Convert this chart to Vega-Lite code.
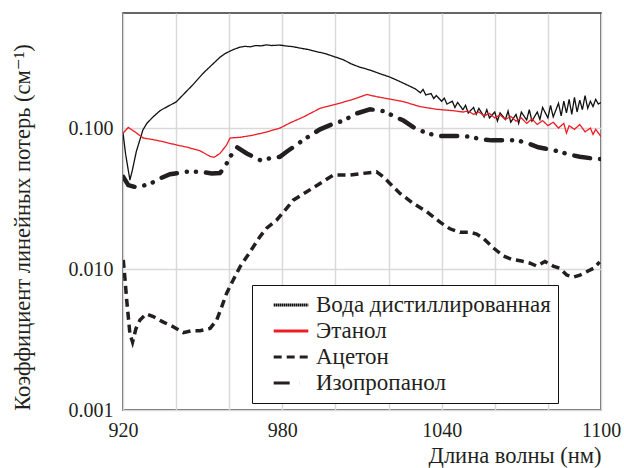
{
  "$schema": "https://vega.github.io/schema/vega-lite/v6.json",
  "width": 478,
  "height": 397,
  "autosize": {"type": "none"},
  "padding": {"left": 123, "top": 13, "right": 23, "bottom": 58},
  "background": "white",
  "config": {
    "view": {"stroke": "#333333", "strokeWidth": 1.5},
    "font": "Liberation Serif, Times New Roman, Tinos, DejaVu Serif, Noto Serif, serif"
  },
  "data": {"values": [
    {"s": "Вода дистиллированная", "x": 920, "y": 0.092},
    {"s": "Вода дистиллированная", "x": 921, "y": 0.065},
    {"s": "Вода дистиллированная", "x": 922.6, "y": 0.0428},
    {"s": "Вода дистиллированная", "x": 923.5, "y": 0.05},
    {"s": "Вода дистиллированная", "x": 925, "y": 0.068},
    {"s": "Вода дистиллированная", "x": 927.5, "y": 0.097},
    {"s": "Вода дистиллированная", "x": 929, "y": 0.108},
    {"s": "Вода дистиллированная", "x": 931.3, "y": 0.12},
    {"s": "Вода дистиллированная", "x": 934, "y": 0.133},
    {"s": "Вода дистиллированная", "x": 937, "y": 0.143},
    {"s": "Вода дистиллированная", "x": 940, "y": 0.153},
    {"s": "Вода дистиллированная", "x": 943, "y": 0.175},
    {"s": "Вода дистиллированная", "x": 946, "y": 0.2},
    {"s": "Вода дистиллированная", "x": 950.2, "y": 0.245},
    {"s": "Вода дистиллированная", "x": 953, "y": 0.275},
    {"s": "Вода дистиллированная", "x": 956.6, "y": 0.319},
    {"s": "Вода дистиллированная", "x": 958.5, "y": 0.338},
    {"s": "Вода дистиллированная", "x": 960.4, "y": 0.352},
    {"s": "Вода дистиллированная", "x": 962, "y": 0.363},
    {"s": "Вода дистиллированная", "x": 964.1, "y": 0.375},
    {"s": "Вода дистиллированная", "x": 966, "y": 0.38},
    {"s": "Вода дистиллированная", "x": 968, "y": 0.377},
    {"s": "Вода дистиллированная", "x": 970, "y": 0.385},
    {"s": "Вода дистиллированная", "x": 972, "y": 0.383},
    {"s": "Вода дистиллированная", "x": 974, "y": 0.389},
    {"s": "Вода дистиллированная", "x": 976, "y": 0.385},
    {"s": "Вода дистиллированная", "x": 979, "y": 0.388},
    {"s": "Вода дистиллированная", "x": 982, "y": 0.381},
    {"s": "Вода дистиллированная", "x": 984, "y": 0.378},
    {"s": "Вода дистиллированная", "x": 986.7, "y": 0.369},
    {"s": "Вода дистиллированная", "x": 990, "y": 0.36},
    {"s": "Вода дистиллированная", "x": 993, "y": 0.348},
    {"s": "Вода дистиллированная", "x": 996, "y": 0.338},
    {"s": "Вода дистиллированная", "x": 1000, "y": 0.319},
    {"s": "Вода дистиллированная", "x": 1003, "y": 0.305},
    {"s": "Вода дистиллированная", "x": 1006, "y": 0.285},
    {"s": "Вода дистиллированная", "x": 1009, "y": 0.271},
    {"s": "Вода дистиллированная", "x": 1013, "y": 0.258},
    {"s": "Вода дистиллированная", "x": 1017, "y": 0.242},
    {"s": "Вода дистиллированная", "x": 1020.5, "y": 0.23},
    {"s": "Вода дистиллированная", "x": 1024, "y": 0.215},
    {"s": "Вода дистиллированная", "x": 1028, "y": 0.198},
    {"s": "Вода дистиллированная", "x": 1030, "y": 0.19},
    {"s": "Вода дистиллированная", "x": 1032, "y": 0.178},
    {"s": "Вода дистиллированная", "x": 1033, "y": 0.188},
    {"s": "Вода дистиллированная", "x": 1034, "y": 0.172},
    {"s": "Вода дистиллированная", "x": 1036, "y": 0.176},
    {"s": "Вода дистиллированная", "x": 1037, "y": 0.162},
    {"s": "Вода дистиллированная", "x": 1038, "y": 0.17},
    {"s": "Вода дистиллированная", "x": 1040, "y": 0.155},
    {"s": "Вода дистиллированная", "x": 1041, "y": 0.163},
    {"s": "Вода дистиллированная", "x": 1042, "y": 0.148},
    {"s": "Вода дистиллированная", "x": 1044, "y": 0.155},
    {"s": "Вода дистиллированная", "x": 1045, "y": 0.14},
    {"s": "Вода дистиллированная", "x": 1046, "y": 0.152},
    {"s": "Вода дистиллированная", "x": 1048, "y": 0.135},
    {"s": "Вода дистиллированная", "x": 1049, "y": 0.145},
    {"s": "Вода дистиллированная", "x": 1050, "y": 0.128},
    {"s": "Вода дистиллированная", "x": 1052, "y": 0.14},
    {"s": "Вода дистиллированная", "x": 1053, "y": 0.125},
    {"s": "Вода дистиллированная", "x": 1054, "y": 0.138},
    {"s": "Вода дистиллированная", "x": 1056, "y": 0.12},
    {"s": "Вода дистиллированная", "x": 1057, "y": 0.135},
    {"s": "Вода дистиллированная", "x": 1058, "y": 0.118},
    {"s": "Вода дистиллированная", "x": 1060, "y": 0.13},
    {"s": "Вода дистиллированная", "x": 1061, "y": 0.112},
    {"s": "Вода дистиллированная", "x": 1062, "y": 0.128},
    {"s": "Вода дистиллированная", "x": 1064, "y": 0.115},
    {"s": "Вода дистиллированная", "x": 1065, "y": 0.132},
    {"s": "Вода дистиллированная", "x": 1066, "y": 0.11},
    {"s": "Вода дистиллированная", "x": 1068, "y": 0.125},
    {"s": "Вода дистиллированная", "x": 1069, "y": 0.108},
    {"s": "Вода дистиллированная", "x": 1070, "y": 0.13},
    {"s": "Вода дистиллированная", "x": 1072, "y": 0.114},
    {"s": "Вода дистиллированная", "x": 1073, "y": 0.135},
    {"s": "Вода дистиллированная", "x": 1074, "y": 0.112},
    {"s": "Вода дистиллированная", "x": 1076, "y": 0.13},
    {"s": "Вода дистиллированная", "x": 1077, "y": 0.115},
    {"s": "Вода дистиллированная", "x": 1078, "y": 0.14},
    {"s": "Вода дистиллированная", "x": 1080, "y": 0.118},
    {"s": "Вода дистиллированная", "x": 1081, "y": 0.145},
    {"s": "Вода дистиллированная", "x": 1082, "y": 0.12},
    {"s": "Вода дистиллированная", "x": 1084, "y": 0.15},
    {"s": "Вода дистиллированная", "x": 1085, "y": 0.122},
    {"s": "Вода дистиллированная", "x": 1086, "y": 0.155},
    {"s": "Вода дистиллированная", "x": 1087, "y": 0.128},
    {"s": "Вода дистиллированная", "x": 1088, "y": 0.16},
    {"s": "Вода дистиллированная", "x": 1089, "y": 0.125},
    {"s": "Вода дистиллированная", "x": 1090, "y": 0.165},
    {"s": "Вода дистиллированная", "x": 1091, "y": 0.13},
    {"s": "Вода дистиллированная", "x": 1092, "y": 0.158},
    {"s": "Вода дистиллированная", "x": 1093, "y": 0.135},
    {"s": "Вода дистиллированная", "x": 1094, "y": 0.17},
    {"s": "Вода дистиллированная", "x": 1095, "y": 0.138},
    {"s": "Вода дистиллированная", "x": 1096, "y": 0.155},
    {"s": "Вода дистиллированная", "x": 1097, "y": 0.142},
    {"s": "Вода дистиллированная", "x": 1098, "y": 0.16},
    {"s": "Вода дистиллированная", "x": 1099, "y": 0.148},
    {"s": "Вода дистиллированная", "x": 1100, "y": 0.152},

    {"s": "Этанол", "x": 920, "y": 0.092},
    {"s": "Этанол", "x": 922, "y": 0.101},
    {"s": "Этанол", "x": 924.5, "y": 0.094},
    {"s": "Этанол", "x": 927.6, "y": 0.085},
    {"s": "Этанол", "x": 931, "y": 0.083},
    {"s": "Этанол", "x": 935.2, "y": 0.08},
    {"s": "Этанол", "x": 940.2, "y": 0.0758},
    {"s": "Этанол", "x": 944, "y": 0.0733},
    {"s": "Этанол", "x": 949, "y": 0.069},
    {"s": "Этанол", "x": 952.8, "y": 0.063},
    {"s": "Этанол", "x": 954.3, "y": 0.062},
    {"s": "Этанол", "x": 956.5, "y": 0.066},
    {"s": "Этанол", "x": 959, "y": 0.0758},
    {"s": "Этанол", "x": 960.3, "y": 0.085},
    {"s": "Этанол", "x": 964.1, "y": 0.086},
    {"s": "Этанол", "x": 969, "y": 0.089},
    {"s": "Этанол", "x": 974.2, "y": 0.094},
    {"s": "Этанол", "x": 979.1, "y": 0.1},
    {"s": "Этанол", "x": 983, "y": 0.109},
    {"s": "Этанол", "x": 988, "y": 0.12},
    {"s": "Этанол", "x": 994.2, "y": 0.138},
    {"s": "Этанол", "x": 1000.5, "y": 0.148},
    {"s": "Этанол", "x": 1006.7, "y": 0.16},
    {"s": "Этанол", "x": 1011.8, "y": 0.173},
    {"s": "Этанол", "x": 1015.5, "y": 0.167},
    {"s": "Этанол", "x": 1019.3, "y": 0.162},
    {"s": "Этанол", "x": 1025.6, "y": 0.154},
    {"s": "Этанол", "x": 1031.8, "y": 0.142},
    {"s": "Этанол", "x": 1038, "y": 0.136},
    {"s": "Этанол", "x": 1044, "y": 0.133},
    {"s": "Этанол", "x": 1048, "y": 0.13},
    {"s": "Этанол", "x": 1050, "y": 0.132},
    {"s": "Этанол", "x": 1052, "y": 0.125},
    {"s": "Этанол", "x": 1054, "y": 0.13},
    {"s": "Этанол", "x": 1056, "y": 0.122},
    {"s": "Этанол", "x": 1058, "y": 0.127},
    {"s": "Этанол", "x": 1060, "y": 0.118},
    {"s": "Этанол", "x": 1062, "y": 0.124},
    {"s": "Этанол", "x": 1064, "y": 0.115},
    {"s": "Этанол", "x": 1066, "y": 0.121},
    {"s": "Этанол", "x": 1068, "y": 0.112},
    {"s": "Этанол", "x": 1070, "y": 0.118},
    {"s": "Этанол", "x": 1072, "y": 0.108},
    {"s": "Этанол", "x": 1074, "y": 0.116},
    {"s": "Этанол", "x": 1076, "y": 0.106},
    {"s": "Этанол", "x": 1078, "y": 0.113},
    {"s": "Этанол", "x": 1080, "y": 0.104},
    {"s": "Этанол", "x": 1082, "y": 0.11},
    {"s": "Этанол", "x": 1084, "y": 0.1},
    {"s": "Этанол", "x": 1086, "y": 0.108},
    {"s": "Этанол", "x": 1087, "y": 0.092},
    {"s": "Этанол", "x": 1088, "y": 0.104},
    {"s": "Этанол", "x": 1090, "y": 0.098},
    {"s": "Этанол", "x": 1092, "y": 0.106},
    {"s": "Этанол", "x": 1094, "y": 0.094},
    {"s": "Этанол", "x": 1096, "y": 0.1},
    {"s": "Этанол", "x": 1097, "y": 0.09},
    {"s": "Этанол", "x": 1098, "y": 0.098},
    {"s": "Этанол", "x": 1100, "y": 0.087},

    {"s": "Ацетон", "x": 920.1, "y": 0.0116},
    {"s": "Ацетон", "x": 920.8, "y": 0.0083},
    {"s": "Ацетон", "x": 921.4, "y": 0.006},
    {"s": "Ацетон", "x": 922.6, "y": 0.00348},
    {"s": "Ацетон", "x": 923.6, "y": 0.00303},
    {"s": "Ацетон", "x": 924.9, "y": 0.00379},
    {"s": "Ацетон", "x": 926.4, "y": 0.00435},
    {"s": "Ацетон", "x": 928.7, "y": 0.0048},
    {"s": "Ацетон", "x": 931.4, "y": 0.0046},
    {"s": "Ацетон", "x": 935.2, "y": 0.0042},
    {"s": "Ацетон", "x": 938.9, "y": 0.0039},
    {"s": "Ацетон", "x": 942.7, "y": 0.00354},
    {"s": "Ацетон", "x": 945.9, "y": 0.00365},
    {"s": "Ацетон", "x": 949, "y": 0.00365},
    {"s": "Ацетон", "x": 952.8, "y": 0.00379},
    {"s": "Ацетон", "x": 955.3, "y": 0.00435},
    {"s": "Ацетон", "x": 957.2, "y": 0.00541},
    {"s": "Ацетон", "x": 959, "y": 0.00672},
    {"s": "Ацетон", "x": 961.5, "y": 0.00836},
    {"s": "Ацетон", "x": 964.1, "y": 0.0104},
    {"s": "Ацетон", "x": 966.6, "y": 0.0122},
    {"s": "Ацетон", "x": 969.1, "y": 0.0144},
    {"s": "Ацетон", "x": 971.6, "y": 0.017},
    {"s": "Ацетон", "x": 974.1, "y": 0.0195},
    {"s": "Ацетон", "x": 977.9, "y": 0.0223},
    {"s": "Ацетон", "x": 981.6, "y": 0.0269},
    {"s": "Ацетон", "x": 984.1, "y": 0.0308},
    {"s": "Ацетон", "x": 989.2, "y": 0.0353},
    {"s": "Ацетон", "x": 994.2, "y": 0.0405},
    {"s": "Ацетон", "x": 999.2, "y": 0.0464},
    {"s": "Ацетон", "x": 1005.5, "y": 0.0464},
    {"s": "Ацетон", "x": 1010.5, "y": 0.0477},
    {"s": "Ацетон", "x": 1015.5, "y": 0.049},
    {"s": "Ацетон", "x": 1018, "y": 0.0451},
    {"s": "Ацетон", "x": 1020.5, "y": 0.0405},
    {"s": "Ацетон", "x": 1024.3, "y": 0.0344},
    {"s": "Ацетон", "x": 1029.3, "y": 0.0292},
    {"s": "Ацетон", "x": 1034.4, "y": 0.0255},
    {"s": "Ацетон", "x": 1039.4, "y": 0.0215},
    {"s": "Ацетон", "x": 1043.1, "y": 0.0193},
    {"s": "Ацетон", "x": 1046.9, "y": 0.0182},
    {"s": "Ацетон", "x": 1050.7, "y": 0.0182},
    {"s": "Ацетон", "x": 1053.2, "y": 0.0177},
    {"s": "Ацетон", "x": 1055.7, "y": 0.0165},
    {"s": "Ацетон", "x": 1059.5, "y": 0.0141},
    {"s": "Ацетон", "x": 1063.2, "y": 0.0124},
    {"s": "Ацетон", "x": 1066.4, "y": 0.0117},
    {"s": "Ацетон", "x": 1070.1, "y": 0.0114},
    {"s": "Ацетон", "x": 1073.3, "y": 0.011},
    {"s": "Ацетон", "x": 1075.8, "y": 0.0105},
    {"s": "Ацетон", "x": 1078.9, "y": 0.0113},
    {"s": "Ацетон", "x": 1082, "y": 0.0105},
    {"s": "Ацетон", "x": 1084.6, "y": 0.0101},
    {"s": "Ацетон", "x": 1087.1, "y": 0.00906},
    {"s": "Ацетон", "x": 1089.6, "y": 0.00875},
    {"s": "Ацетон", "x": 1092.1, "y": 0.00906},
    {"s": "Ацетон", "x": 1094.6, "y": 0.00957},
    {"s": "Ацетон", "x": 1097.1, "y": 0.0101},
    {"s": "Ацетон", "x": 1099.5, "y": 0.0112},

    {"s": "Изопропанол", "x": 920.1, "y": 0.045},
    {"s": "Изопропанол", "x": 922, "y": 0.0394},
    {"s": "Изопропанол", "x": 925, "y": 0.038},
    {"s": "Изопропанол", "x": 930, "y": 0.04},
    {"s": "Изопропанол", "x": 934, "y": 0.044},
    {"s": "Изопропанол", "x": 937.7, "y": 0.047},
    {"s": "Изопропанол", "x": 944, "y": 0.049},
    {"s": "Изопропанол", "x": 949, "y": 0.049},
    {"s": "Изопропанол", "x": 953.4, "y": 0.0477},
    {"s": "Изопропанол", "x": 956.5, "y": 0.048},
    {"s": "Изопропанол", "x": 958.4, "y": 0.053},
    {"s": "Изопропанол", "x": 960.3, "y": 0.0626},
    {"s": "Изопропанол", "x": 963, "y": 0.073},
    {"s": "Изопропанол", "x": 966.6, "y": 0.066},
    {"s": "Изопропанол", "x": 971.6, "y": 0.0593},
    {"s": "Изопропанол", "x": 976.6, "y": 0.0616},
    {"s": "Изопропанол", "x": 979.1, "y": 0.0626},
    {"s": "Изопропанол", "x": 981.6, "y": 0.0679},
    {"s": "Изопропанол", "x": 987.9, "y": 0.0822},
    {"s": "Изопропанол", "x": 994.2, "y": 0.098},
    {"s": "Изопропанол", "x": 998.6, "y": 0.106},
    {"s": "Изопропанол", "x": 1003, "y": 0.113},
    {"s": "Изопропанол", "x": 1008, "y": 0.127},
    {"s": "Изопропанол", "x": 1013, "y": 0.136},
    {"s": "Изопропанол", "x": 1018, "y": 0.132},
    {"s": "Изопропанол", "x": 1021.8, "y": 0.122},
    {"s": "Изопропанол", "x": 1025.6, "y": 0.113},
    {"s": "Изопропанол", "x": 1030.6, "y": 0.098},
    {"s": "Изопропанол", "x": 1035.6, "y": 0.0907},
    {"s": "Изопропанол", "x": 1039.4, "y": 0.0878},
    {"s": "Изопропанол", "x": 1046.9, "y": 0.0878},
    {"s": "Изопропанол", "x": 1050.7, "y": 0.0868},
    {"s": "Изопропанол", "x": 1054.4, "y": 0.0836},
    {"s": "Изопропанол", "x": 1058.8, "y": 0.0818},
    {"s": "Изопропанол", "x": 1068.4, "y": 0.0818},
    {"s": "Изопропанол", "x": 1072.6, "y": 0.0779},
    {"s": "Изопропанол", "x": 1076.4, "y": 0.073},
    {"s": "Изопропанол", "x": 1082, "y": 0.0698},
    {"s": "Изопропанол", "x": 1085.2, "y": 0.0672},
    {"s": "Изопропанол", "x": 1089, "y": 0.0643},
    {"s": "Изопропанол", "x": 1092, "y": 0.0626},
    {"s": "Изопропанол", "x": 1098.4, "y": 0.0603},
    {"s": "Изопропанол", "x": 1100, "y": 0.0603}
  ]},
  "encoding": {
    "x": {
      "field": "x", "type": "quantitative",
      "scale": {"domain": [920, 1100], "nice": false, "zero": false},
      "axis": {
        "values": [920, 940, 960, 980, 1000, 1020, 1040, 1060, 1080, 1100],
        "format": "d",
        "labelExpr": "datum.value % 60 == 20 ? datum.label : ''",
        "labelFlush": false,
        "labelPadding": 10,
        "labelFont": "Liberation Serif, Times New Roman, Tinos, DejaVu Serif, Noto Serif, serif", "labelFontSize": 20, "labelColor": "#231f20",
        "gridColor": "#d9d9d9", "gridWidth": 1.5, "ticks": false, "domain": false,
        "title": "Длина волны (нм)",
        "titleFont": "Liberation Serif, Times New Roman, Tinos, DejaVu Serif, Noto Serif, serif", "titleFontSize": 22.5, "titleFontWeight": "normal", "titleColor": "#231f20",
        "titleAnchor": "end", "titleAlign": "right", "titleX": 478, "titleY": 52, "titleBaseline": "alphabetic"
      }
    },
    "y": {
      "field": "y", "type": "quantitative",
      "scale": {"type": "log", "domain": [0.001, 0.655], "nice": false},
      "axis": {
        "values": [0.001, 0.01, 0.1],
        "format": ".3f",
        "labelPadding": 10,
        "labelFont": "Liberation Serif, Times New Roman, Tinos, DejaVu Serif, Noto Serif, serif", "labelFontSize": 20, "labelColor": "#231f20",
        "gridColor": "#d9d9d9", "gridWidth": 1.5, "ticks": false, "domain": false,
        "title": "Коэффициент линейных потерь (см⁻¹)",
        "titleFont": "Liberation Serif, Times New Roman, Tinos, DejaVu Serif, Noto Serif, serif", "titleFontSize": 22.5, "titleFontWeight": "normal", "titleColor": "#231f20",
        "titleX": -101, "titleY": 214, "titleAlign": "center", "titleBaseline": "middle", "titleAngle": -90
      }
    },
    "color": {
      "field": "s", "type": "nominal",
      "scale": {"domain": ["Вода дистиллированная", "Этанол", "Ацетон", "Изопропанол"], "range": ["#111111", "#ee1c25", "#231f20", "#231f20"]},
      "legend": {"orient": "none", "legendX": 129, "legendY": 272, "title": null, "strokeColor": "#111111", "fillColor": "white", "padding": 7, "symbolType": "stroke", "symbolSize": 1200, "symbolStrokeWidth": 3, "symbolOffset": 13, "labelOffset": 6, "rowPadding": 0, "clipHeight": 26, "cornerRadius": 0, "labelFont": "Liberation Serif, Times New Roman, Tinos, DejaVu Serif, Noto Serif, serif", "labelFontSize": 23, "labelColor": "#231f20", "labelLimit": 400}
    },
    "strokeDash": {
      "field": "s", "type": "nominal",
      "scale": {"domain": ["Вода дистиллированная", "Этанол", "Ацетон", "Изопропанол"], "range": [[1.6, 0.4], [1, 0], [8, 5], [16, 10, 0.1, 9, 0.1, 10]]},
      "legend": {"orient": "none", "legendX": 129, "legendY": 272, "title": null, "strokeColor": "#111111", "fillColor": "white", "padding": 7, "symbolType": "stroke", "symbolSize": 1200, "symbolStrokeWidth": 3, "symbolOffset": 13, "labelOffset": 6, "rowPadding": 0, "clipHeight": 26, "cornerRadius": 0, "labelFont": "Liberation Serif, Times New Roman, Tinos, DejaVu Serif, Noto Serif, serif", "labelFontSize": 23, "labelColor": "#231f20", "labelLimit": 400}
    }
  },
  "layer": [
    {"transform": [{"filter": "datum.s == 'Ацетон'"}], "mark": {"type": "line", "clip": true, "strokeWidth": 3.5, "strokeCap": "butt"}},
    {"transform": [{"filter": "datum.s == 'Изопропанол'"}], "mark": {"type": "line", "clip": true, "strokeWidth": 4.5, "strokeCap": "round"}},
    {"transform": [{"filter": "datum.s == 'Вода дистиллированная'"}], "mark": {"type": "line", "clip": true, "strokeWidth": 1.3}, "encoding": {"strokeDash": {"value": [1, 0]}}},
    {"transform": [{"filter": "datum.s == 'Этанол'"}], "mark": {"type": "line", "clip": true, "strokeWidth": 1.3}}
  ]
}
